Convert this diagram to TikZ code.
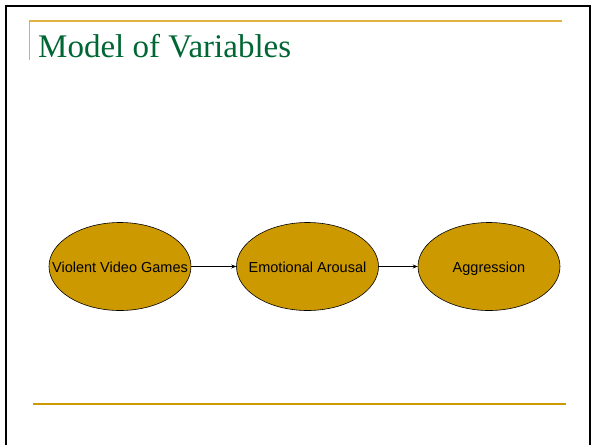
\documentclass[tikz,border=0pt]{standalone}
\usepackage{fontspec}
\setmainfont{Liberation Serif}
\newfontfamily\arialf{Liberation Sans}
\usetikzlibrary{shapes.geometric,arrows.meta}
\definecolor{gold}{RGB}{204,153,0}
\definecolor{lightgold}{RGB}{226,178,64}
\definecolor{titlegreen}{RGB}{0,102,51}
\newcommand{\zw}[1]{\makebox[0pt]{#1}}
\begin{document}
\begin{tikzpicture}[x=1pt,y=-1pt,
  var/.style={ellipse,draw=black,line width=0.6pt,fill=gold,minimum width=142pt,minimum height=88pt,inner sep=0pt,text height=11pt,text depth=0pt,font=\arialf\fontsize{14.5}{16}\selectfont},
  link/.style={draw=black,line width=0.6pt,-{Stealth[length=5pt,width=4pt]}}]
\useasboundingbox (0,0) rectangle (594,445);
\fill[white] (0,0) rectangle (594,445);
% frame
\draw[black,line width=2pt] (5.5,445) -- (5.5,6) -- (590,6) -- (590,445);
% header lines
\draw[lightgold,line width=1.2pt] (29,21) -- (562,21);
\draw[lightgold,line width=1pt] (29,21) -- (29,60);
\node[anchor=base west,inner sep=0pt,text=titlegreen,font=\fontsize{33}{36}\selectfont] (title) at (38,57.5) {Model of Variables};
% variables
\node[var] (vvg) at (120,266.5) {\zw{Violent Video Games}};
\node[var] (ea) at (307.5,266.5) {\zw{Emotional Arousal}};
\node[var] (ag) at (489,266.5) {\zw{Aggression}};
\draw[link] (vvg) -- (ea);
\draw[link] (ea) -- (ag);
% footer line
\draw[gold,line width=2pt] (33,404) -- (566,404);
\end{tikzpicture}
\end{document}
